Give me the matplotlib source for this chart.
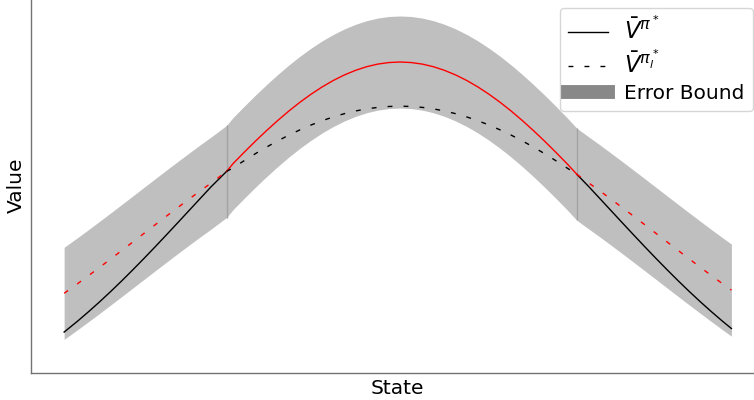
import matplotlib
matplotlib.use('Agg')
import matplotlib.pyplot as plt
import numpy as np
from matplotlib.lines import Line2D

# ---- data ----
x_left = np.array([-3.02, -2.9, -2.8, -2.7, -2.6, -2.5, -2.4, -2.3, -2.2, -2.1,
                   -2.0, -1.9, -1.8, -1.7, -1.56])
v_left = np.array([0.1316, 0.1665, 0.1972, 0.2292, 0.2625, 0.2970, 0.3326, 0.3691,
                   0.4064, 0.4443, 0.4826, 0.5212, 0.5598, 0.5983, 0.648])      # V^{pi*}
vl_left = np.array([0.2562, 0.2870, 0.3133, 0.3400, 0.3671, 0.3944, 0.4219, 0.4495,
                    0.4770, 0.5044, 0.5315, 0.5583, 0.5847, 0.6104, 0.648])    # V^{pi_l*}

x_mid = np.array([-1.56, -1.5, -1.4, -1.3, -1.2, -1.1, -1.0, -0.9, -0.8, -0.7, -0.6,
                  -0.5, -0.4, -0.3, -0.2, -0.1, 0.0, 0.1, 0.2, 0.3, 0.4, 0.5, 0.6,
                  0.7, 0.8, 0.9, 1.0, 1.1, 1.2, 1.3, 1.4, 1.5, 1.59])
v_mid = np.array([0.648, 0.6737, 0.7102, 0.7455, 0.7794, 0.8117, 0.8422, 0.8705,
                  0.8964, 0.9199, 0.9406, 0.9584, 0.9732, 0.9849, 0.9933, 0.9983,
                  1.0000, 0.9983, 0.9933, 0.9849, 0.9732, 0.9584, 0.9406, 0.9199,
                  0.8964, 0.8705, 0.8422, 0.8117, 0.7794, 0.7455, 0.7102, 0.6737, 0.639])
vl_mid = np.array([0.648, 0.6597, 0.6830, 0.7053, 0.7264, 0.7463, 0.7648, 0.7818,
                   0.7974, 0.8112, 0.8234, 0.8339, 0.8425, 0.8493, 0.8541, 0.8570,
                   0.8580, 0.8570, 0.8541, 0.8493, 0.8425, 0.8339, 0.8234, 0.8112,
                   0.7974, 0.7818, 0.7648, 0.7463, 0.7264, 0.7053, 0.6830, 0.6597, 0.639])

x_right = np.array([1.59, 1.7, 1.8, 1.9, 2.0, 2.1, 2.2, 2.3, 2.4, 2.5, 2.6, 2.7,
                    2.8, 2.9, 2.98])
v_right = np.array([0.639, 0.5983, 0.5598, 0.5212, 0.4826, 0.4443, 0.4064, 0.3691,
                    0.3326, 0.2970, 0.2625, 0.2292, 0.1972, 0.1665, 0.1430])
vl_right = np.array([0.639, 0.6104, 0.5847, 0.5583, 0.5315, 0.5044, 0.4770, 0.4495,
                     0.4219, 0.3944, 0.3671, 0.3400, 0.3133, 0.2870, 0.2664])

eps = 0.148  # error-bound half width

labels = [r'$\bar{V}^{\pi^*}$', r'$\bar{V}^{\pi_l^*}$', 'Error Bound']

# ---- figure ----
fig = plt.figure(figsize=(7.54, 4.0), dpi=100)
ax = fig.add_axes([31/754, 27/400, 732/754, 375/400])

band = '#bfbfbf'
ax.fill_between(x_left, vl_left - eps, vl_left + eps, color=band, lw=0, zorder=1)
ax.fill_between(x_mid, v_mid - eps, v_mid + eps, color=band, lw=0, zorder=1)
ax.fill_between(x_right, vl_right - eps, vl_right + eps, color=band, lw=0, zorder=1)
ax.vlines([x_mid[0], x_mid[-1]], [v_mid[0] - eps, v_mid[-1] - eps],
          [v_mid[0] + eps, v_mid[-1] + eps], color='#a3a3a3', lw=1, zorder=1.5)

dash = (0, (3.5, 8))
# outer regions: V^{pi*} black solid, V^{pi_l*} red dashed
ax.plot(x_left, v_left, color='black', lw=1, zorder=3)
ax.plot(x_left, vl_left, color='red', lw=1, ls=dash, zorder=3)
ax.plot(x_right, v_right, color='black', lw=1, zorder=3)
ax.plot(x_right, vl_right, color='red', lw=1, ls=dash, zorder=3)
# middle region: V^{pi*} red solid, V^{pi_l*} black dashed
ax.plot(x_mid, v_mid, color='red', lw=1, zorder=3)
ax.plot(x_mid, vl_mid, color='black', lw=1, ls=dash, zorder=3)

ax.set_xlim(-3.318, 3.264)
ax.set_ylim(0, 1.2058)
ax.set_xticks([])
ax.set_yticks([])
for side in ['top', 'right']:
    ax.spines[side].set_visible(False)
for side in ['left', 'bottom']:
    ax.spines[side].set_color('0.45')
    ax.spines[side].set_linewidth(1.0)

ax.set_xlabel('State', fontsize=14.5)
ax.set_ylabel('Value', fontsize=14.5)

handles = [Line2D([], [], color='black', lw=1),
           Line2D([], [], color='black', lw=1, ls=dash),
           Line2D([], [], color='#888888', lw=10)]
leg = ax.legend(handles, labels, loc='upper right', fontsize=14.5, labelspacing=0.3)
for t in leg.get_texts()[:2]:
    t.set_fontsize(16.5)

fig.savefig('out.png', dpi=100)
